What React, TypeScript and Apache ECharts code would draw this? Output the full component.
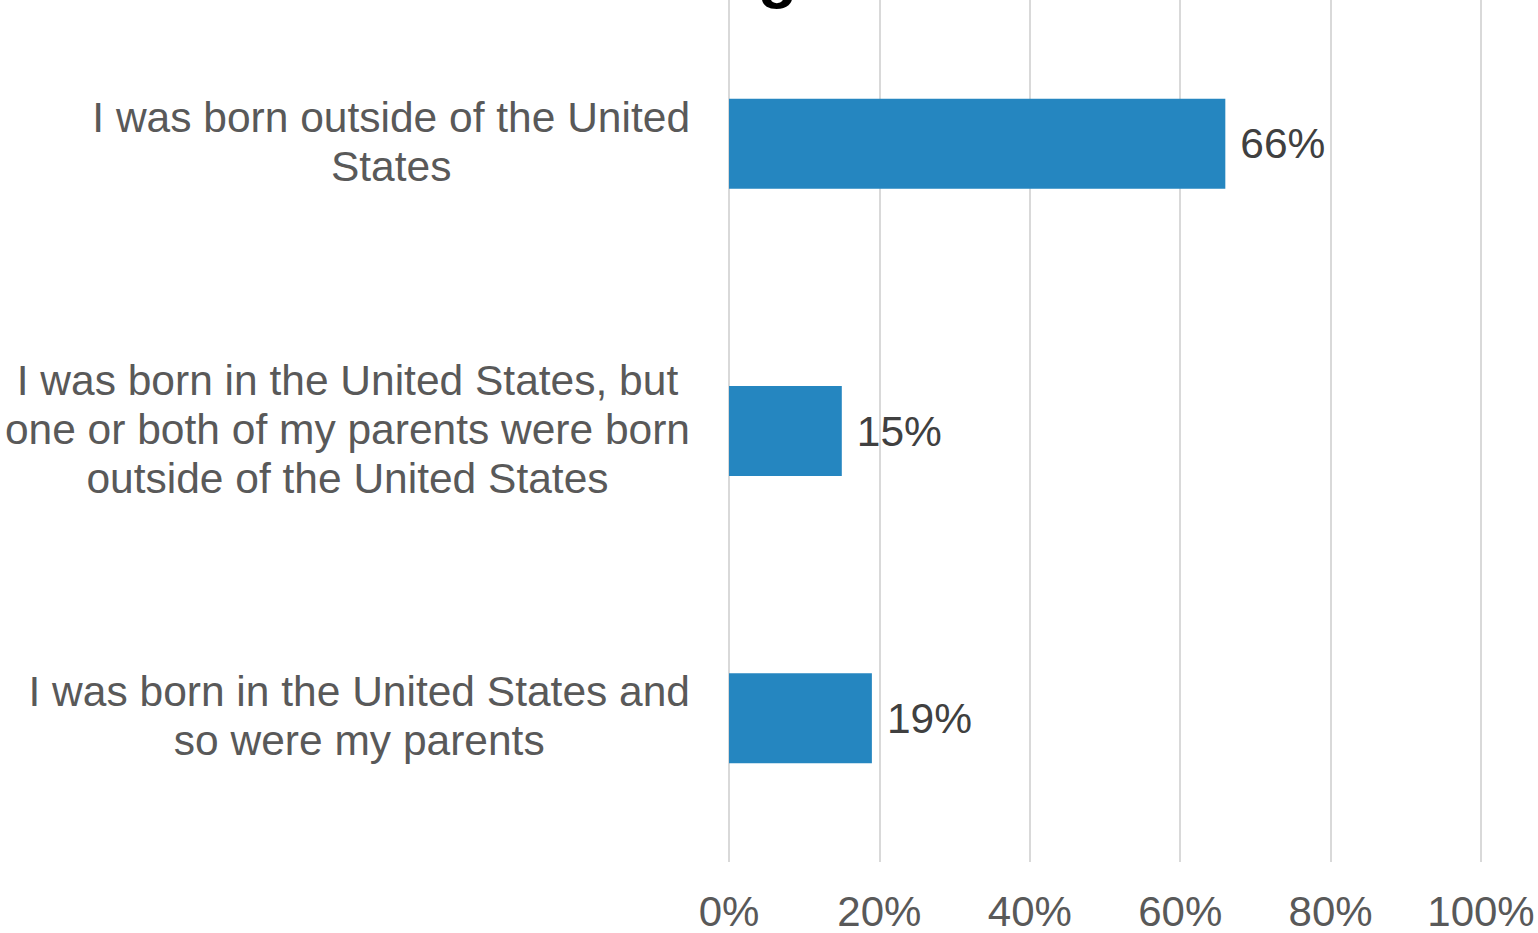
import React, { useEffect, useRef } from "react";
import * as echarts from "echarts";

const categories: string[] = [
  "I was born outside of the United\nStates",
  "I was born in the United States, but\none or both of my parents were born\noutside of the United States",
  "I was born in the United States and\nso were my parents",
];
const values: number[] = [66, 15, 19];
const tickMin = 0;
const tickMax = 100;
const tickStep = 20;

const FONT = "'Liberation Sans', Arial, Helvetica, sans-serif";

export default function App() {
  const ref = useRef<HTMLDivElement>(null);
  useEffect(() => {
    if (!ref.current) return;
    const chart = echarts.init(ref.current, undefined, { renderer: "svg" });
    chart.setOption({
      animation: false,
      backgroundColor: "#ffffff",
      textStyle: { fontFamily: FONT },
      grid: { left: 729, right: 57, top: 0, bottom: 71, containLabel: false },
      xAxis: {
        type: "value",
        min: tickMin,
        max: tickMax,
        interval: tickStep,
        axisLine: { show: false },
        axisTick: { show: false },
        splitLine: { show: true, lineStyle: { color: "#d9d9d9", width: 2 } },
        axisLabel: {
          formatter: "{value}%",
          color: "#595959",
          fontSize: 42,
          fontFamily: FONT,
          margin: 28,
        },
      },
      yAxis: {
        type: "category",
        inverse: true,
        data: categories,
        axisLine: { show: false },
        axisTick: { show: false },
        splitLine: { show: false },
        axisLabel: {
          margin: 39,
          align: "right",
          color: "#595959",
          fontSize: 42.5,
          fontFamily: FONT,
          lineHeight: 49,
          padding: [0, 0, 4, 0],
          formatter: (v: string) =>
            v
              .split("\n")
              .map((l) => `{c|${l}}`)
              .join("\n"),
          rich: {
            c: {
              align: "center",
              color: "#595959",
              fontSize: 42.5,
              fontFamily: FONT,
              lineHeight: 49,
            },
          },
        },
      },
      series: [
        {
          type: "bar",
          data: values,
          barWidth: 90,
          itemStyle: { color: "#2586C0" },
          label: {
            show: true,
            position: "right",
            distance: 15,
            formatter: "{c}%",
            color: "#404040",
            fontSize: 42.5,
            fontFamily: FONT,
          },
        },
      ],
      graphic: [
        {
          type: "text",
          left: 758,
          top: -58,
          style: {
            text: "g",
            fill: "#000000",
            font: `bold 64px ${FONT}`,
          },
        },
      ],
    });
    return () => chart.dispose();
  }, []);
  return (
    <div
      ref={ref}
      style={{ position: "fixed", left: 0, top: 0, width: 1538, height: 933 }}
    />
  );
}
